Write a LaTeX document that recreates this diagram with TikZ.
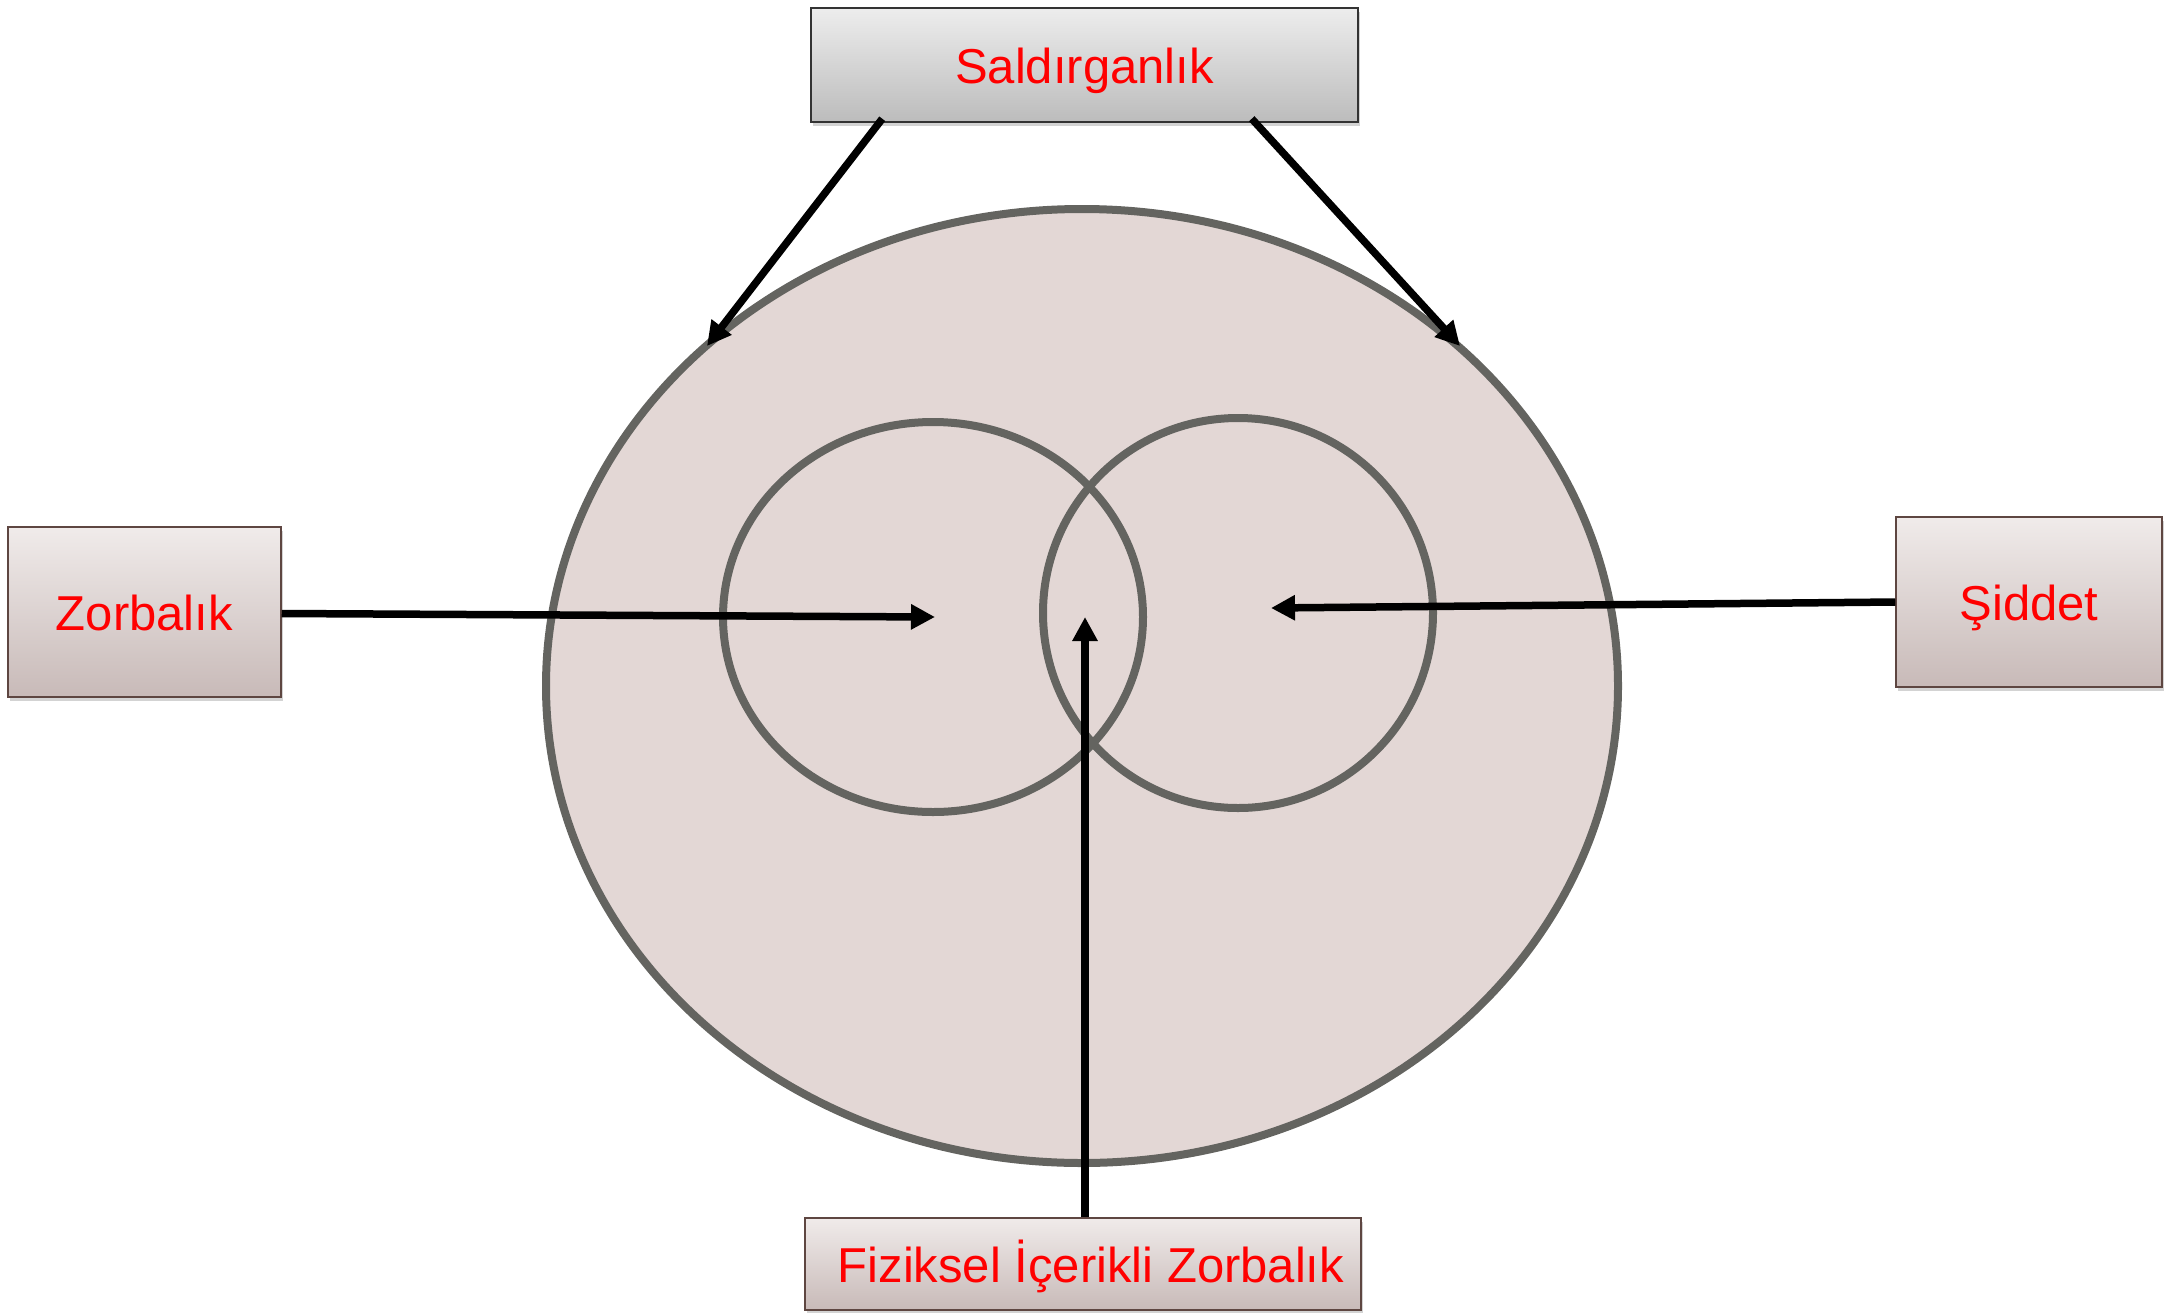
\documentclass[tikz,border=0pt]{standalone}
\usepackage{fontspec}
\setmainfont{Liberation Sans}
\usetikzlibrary{arrows.meta,shadows,calc}
\definecolor{ellfill}{HTML}{E3D7D5}
\definecolor{ellline}{HTML}{646460}
\definecolor{boxline}{HTML}{5E4641}
\definecolor{boxtop}{HTML}{F0EBEA}
\definecolor{boxbot}{HTML}{C8BAB8}
\definecolor{graytop}{HTML}{EDEDED}
\definecolor{graybot}{HTML}{BCBCBC}
\begin{document}
\begin{tikzpicture}[x=1pt,y=-1pt,
  labelbox/.style={draw=boxline,line width=1.5pt,top color=boxtop,bottom color=boxbot,
    inner sep=0pt,text=red,font=\fontsize{49}{53}\selectfont,
    text height=46pt,text depth=10pt,
    drop shadow={opacity=0.35,shadow xshift=2pt,shadow yshift=-4pt}},
  graybox/.style={labelbox,draw=black!80,top color=graytop,bottom color=graybot},
  ring/.style={draw=ellline,line width=8pt},
  arr/.style={draw=black,line width=7.5pt,-{Triangle[length=24pt,width=24pt]}}]
\useasboundingbox (0,0) rectangle (2173,1312);
% big ellipse and circles
\draw[ring,fill=ellfill] (1082,686) ellipse [x radius=536, y radius=477];
\draw[ring] (933,617) ellipse [x radius=210, y radius=195];
\draw[ring] (1238,613) ellipse [x radius=195, y radius=195];
% boxes
\node[graybox,minimum width=547pt,minimum height=114pt] (sal) at (1084.5,65) {Saldırganlık};
\node[labelbox,minimum width=273pt,minimum height=170pt] (zor) at (144.5,612) {Zorbalık};
\node[labelbox,minimum width=266pt,minimum height=170pt] (sid) at (2029,602) {Şiddet};
\node[labelbox,minimum width=556pt,minimum height=92pt] (fiz) at (1083,1264) {\hspace{16pt}Fiziksel İçerikli Zorbalık};
% arrow targets
\coordinate (tl) at (707,346);
\coordinate (tr) at (1460,346);
\coordinate (zc) at (935,617);
\coordinate (sc) at (1271,608);
\coordinate (fc) at (1085,617);
% arrows
\draw[arr] ([xshift=72pt,yshift=4pt]sal.south west) -- (tl);
\draw[arr] ([xshift=-107pt,yshift=4pt]sal.south east) -- (tr);
\draw[arr] ([yshift=-1.5pt]zor.east) -- (zc);
\draw[arr] (sid.west) -- (sc);
\draw[arr] (fiz.north -| fc) -- (fc);
\end{tikzpicture}
\end{document}
